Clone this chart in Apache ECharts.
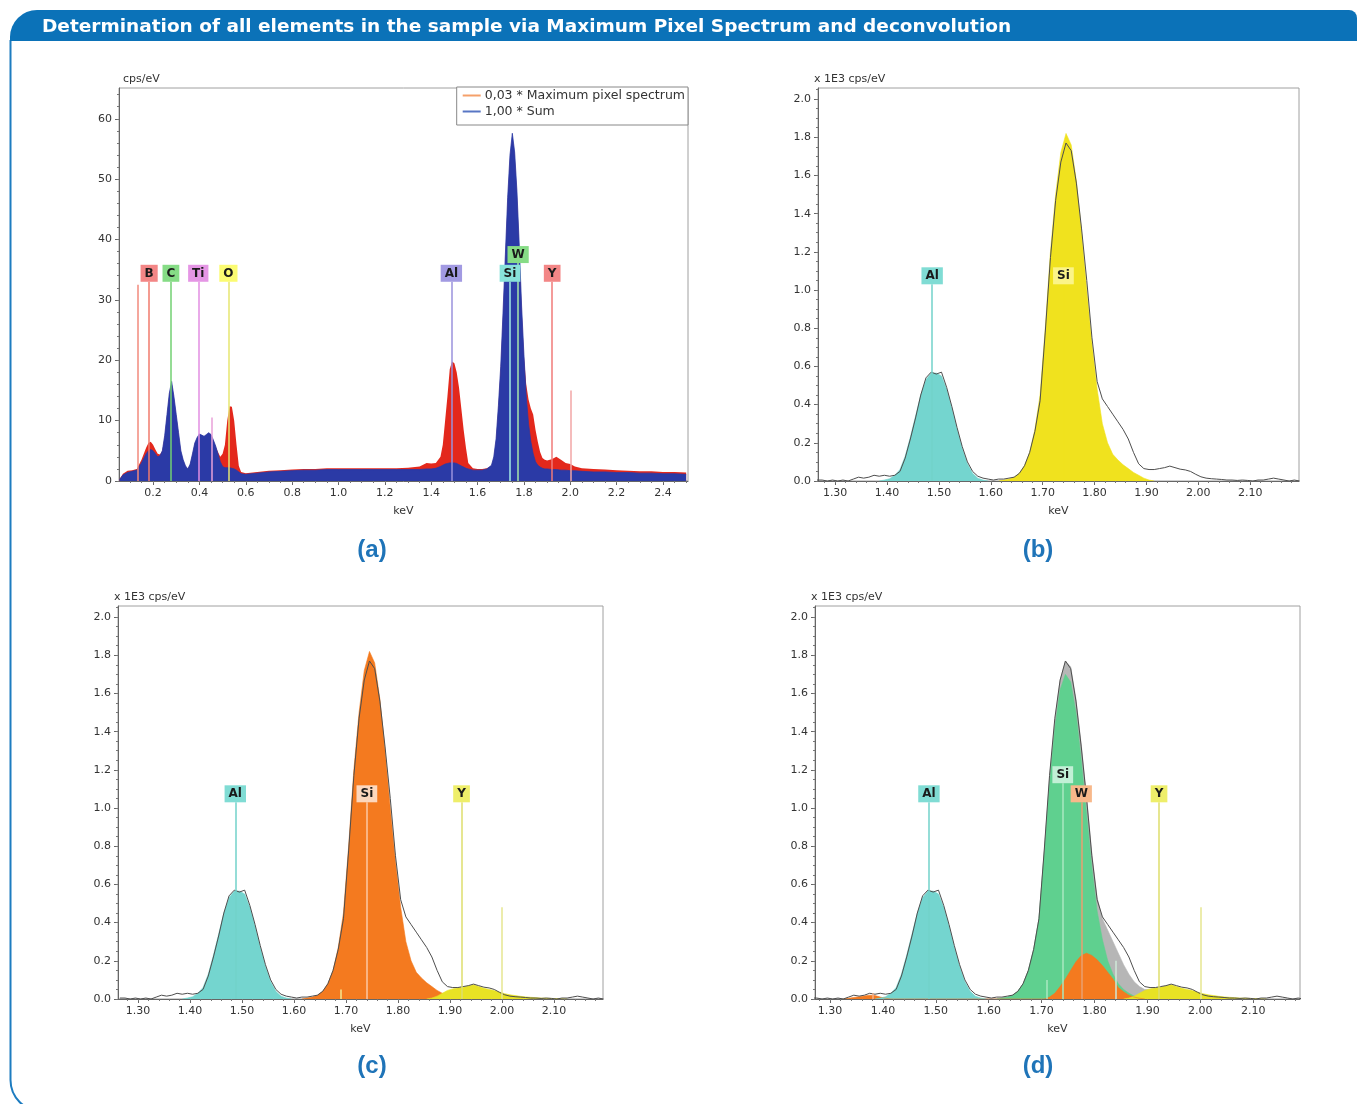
<!DOCTYPE html>
<html><head><meta charset="utf-8">
<script src="https://cdn.jsdelivr.net/npm/echarts@6/dist/echarts.min.js"></script>
<style>html,body{margin:0;padding:0;background:#fff;}#c{width:1360px;height:1104px;}</style>
</head><body><div id="c"></div>
<script>
// ---------- Panel (a): survey spectrum ----------
const aKeV = [0.055,0.07,0.09,0.11,0.13,0.15,0.17,0.18,0.19,0.20,
0.21,0.22,0.23,0.24,0.25,0.26,0.27,0.28,0.29,0.30,
0.31,0.32,0.33,0.34,0.35,0.36,0.37,0.38,0.39,0.40,
0.41,0.42,0.43,0.44,0.45,0.46,0.47,0.48,0.49,0.50,
0.51,0.52,0.53,0.54,0.55,0.56,0.57,0.58,0.60,0.65,
0.70,0.75,0.80,0.85,0.90,0.95,1.00,1.05,1.10,1.15,
1.20,1.25,1.30,1.35,1.38,1.40,1.42,1.44,1.45,1.46,
1.47,1.48,1.49,1.50,1.51,1.52,1.53,1.54,1.55,1.56,
1.58,1.60,1.62,1.64,1.66,1.67,1.68,1.69,1.70,1.71,
1.72,1.73,1.74,1.75,1.76,1.77,1.78,1.79,1.80,1.81,
1.82,1.83,1.84,1.85,1.86,1.87,1.88,1.89,1.90,1.92,
1.94,1.96,1.98,2.00,2.02,2.05,2.10,2.15,2.20,2.25,
2.30,2.35,2.40,2.45,2.50];
const aSum = [0.2,1.0,1.4,1.6,1.8,3.0,4.5,5.0,5.2,5.0,
4.5,4.0,4.2,5.0,7.5,11.0,14.5,16.5,14.0,11.0,
8.0,5.0,3.5,2.5,2.0,2.8,4.5,6.3,7.2,7.8,
7.6,7.4,7.7,8.0,7.7,6.8,5.8,4.5,3.2,2.4,
2.2,2.2,2.2,2.1,2.0,1.8,1.5,1.2,1.1,1.3,
1.5,1.6,1.7,1.8,1.8,1.9,1.9,1.9,1.9,1.9,
1.9,1.9,1.9,1.9,2.0,2.0,2.1,2.4,2.6,2.8,
2.9,3.0,3.0,3.0,2.9,2.7,2.5,2.3,2.1,2.0,
1.8,1.8,1.8,2.0,2.6,4.0,7.0,12.5,19.0,28.0,
37.5,47.0,54.0,57.6,54.5,48.0,39.0,29.0,21.0,14.0,
9.5,6.5,4.5,3.2,2.6,2.3,2.1,2.0,2.0,1.9,
1.9,1.8,1.8,1.7,1.7,1.6,1.5,1.5,1.4,1.4,
1.3,1.3,1.2,1.2,1.1];
const aMax = [0.3,1.2,1.7,1.8,2.0,3.5,5.5,6.3,6.5,6.0,
5.2,4.5,4.4,5.0,7.3,10.8,14.3,16.3,13.8,10.8,
7.8,4.8,3.4,2.4,2.0,2.7,4.4,6.2,7.1,7.7,
7.5,7.3,7.6,7.9,7.6,6.7,5.7,4.8,4.0,4.5,
6.0,10.0,12.4,12.3,10.0,6.0,2.5,1.5,1.3,1.5,
1.7,1.8,1.9,2.0,2.0,2.1,2.1,2.1,2.1,2.1,
2.1,2.1,2.2,2.4,3.0,2.9,3.0,4.0,6.0,10.0,
14.0,18.5,19.8,19.5,18.0,15.5,12.0,8.5,5.5,3.0,
2.1,2.0,2.0,2.1,2.5,3.8,6.8,12.2,18.7,27.6,
37.0,46.5,53.5,57.0,54.0,47.5,38.5,28.6,20.7,16.0,
13.5,12.0,11.0,8.5,6.5,4.8,3.8,3.5,3.4,3.6,
4.0,3.5,3.0,2.8,2.4,2.1,2.0,1.9,1.8,1.7,
1.6,1.6,1.5,1.5,1.4];
const aMarkKeV   = [0.135,0.183,0.277,0.395,0.452,0.525,1.487,1.740,1.775,1.922,2.000];
const aMarkTop   = [32.5, 33,   33,   33,   10.5, 33,   33,   33,   36.1, 33,   15];
const aMarkLabel = ['',   'B',  'C',  'Ti', '',   'O',  'Al', 'Si', 'W',  'Y',  ''];
const aTicksX = [0.2,0.4,0.6,0.8,1.0,1.2,1.4,1.6,1.8,2.0,2.2,2.4];
const aTicksY = [0,10,20,30,40,50,60];

// ---------- Panels (b)-(d): measured spectrum and fitted profiles ----------
const mKeV = [1.265,1.275,1.285,1.295,1.305,1.315,1.325,1.335,1.345,1.355,
1.365,1.375,1.385,1.395,1.405,1.415,1.425,1.435,1.445,1.455,
1.465,1.475,1.485,1.495,1.505,1.515,1.525,1.535,1.545,1.555,
1.565,1.575,1.585,1.595,1.605,1.615,1.625,1.635,1.645,1.655,
1.665,1.675,1.685,1.695,1.705,1.715,1.725,1.735,1.745,1.755,
1.765,1.775,1.785,1.795,1.805,1.815,1.825,1.835,1.845,1.855,
1.865,1.875,1.885,1.895,1.905,1.915,1.925,1.935,1.945,1.955,
1.965,1.975,1.985,1.995,2.005,2.015,2.025,2.035,2.045,2.055,
2.065,2.075,2.085,2.095,2.105,2.115,2.125,2.135,2.145,2.155,
2.165,2.175,2.185,2.195];
const measured = [0.005,0.005,0.0,0.005,0.0,0.005,0.0,0.01,0.02,0.015,
0.02,0.03,0.025,0.03,0.025,0.03,0.05,0.12,0.22,0.33,
0.45,0.54,0.57,0.56,0.57,0.49,0.39,0.28,0.18,0.10,
0.05,0.025,0.015,0.01,0.005,0.01,0.01,0.015,0.02,0.04,
0.08,0.15,0.26,0.42,0.78,1.17,1.47,1.67,1.77,1.73,
1.56,1.32,1.05,0.75,0.52,0.43,0.39,0.35,0.31,0.27,
0.22,0.15,0.09,0.065,0.06,0.06,0.065,0.07,0.078,0.07,
0.062,0.058,0.05,0.035,0.022,0.015,0.012,0.01,0.008,0.005,
0.005,0.003,0.005,0.003,0.0,0.005,0.005,0.01,0.015,0.01,
0.005,0.0,0.005,0.0];

const alKeV = [1.385,1.395,1.405,1.415,1.425,1.435,1.445,1.455,1.465,1.475,1.485,
1.495,1.505,1.515,1.525,1.535,1.545,1.555,1.565,1.575,1.585,1.595];
const alFit = [0,0.005,0.012,0.03,0.06,0.13,0.23,0.34,0.45,0.53,0.565,
0.565,0.55,0.48,0.38,0.27,0.17,0.09,0.04,0.015,0.005,0];

const siKeV = [1.615,1.625,1.635,1.645,1.655,1.665,1.675,1.685,1.695,1.705,1.715,
1.725,1.735,1.745,1.755,1.765,1.775,1.785,1.795,1.805,1.815,
1.825,1.835,1.845,1.855,1.865,1.875,1.885,1.895,1.905,1.915];
const siFit = [0,0.005,0.01,0.02,0.04,0.08,0.15,0.27,0.45,0.80,1.20,
1.50,1.72,1.82,1.76,1.57,1.30,1.00,0.72,0.48,0.30,
0.20,0.14,0.11,0.085,0.065,0.045,0.03,0.015,0.005,0];

const yKeV = [1.855,1.865,1.875,1.885,1.895,1.905,1.915,1.925,1.935,1.945,1.955,
1.965,1.975,1.985,1.995,2.005,2.015,2.025,2.035,2.045,2.055,
2.065,2.075,2.085,2.095,2.105,2.115,2.125];
const yFit = [0,0.005,0.015,0.03,0.045,0.053,0.058,0.062,0.068,0.075,0.066,
0.056,0.05,0.044,0.036,0.028,0.022,0.018,0.014,0.011,0.009,
0.007,0.005,0.004,0.003,0.002,0.001,0];

const siDKeV = [1.615,1.625,1.635,1.645,1.655,1.665,1.675,1.685,1.695,1.705,
1.715,1.725,1.735,1.745,1.755,1.765,1.775,1.785,1.795,1.805,
1.815,1.825,1.835,1.845,1.855,1.865,1.875,1.885,1.895];
const siDFit = [0,0.005,0.01,0.02,0.04,0.08,0.15,0.26,0.42,0.76,
1.13,1.42,1.62,1.70,1.66,1.50,1.25,0.97,0.69,0.46,
0.31,0.20,0.13,0.08,0.05,0.03,0.015,0.006,0];

const wKeV = [1.325,1.335,1.345,1.355,1.365,1.375,1.385,1.395,1.405,1.415,
1.705,1.715,1.725,1.735,1.745,1.755,1.765,1.775,1.785,1.795,
1.805,1.815,1.825,1.835,1.845,1.855,1.865,1.875,1.885,1.895];
const wFit = [0,0.004,0.008,0.012,0.016,0.02,0.018,0.01,0.004,0,
0,0.01,0.03,0.065,0.105,0.15,0.195,0.228,0.24,0.228,
0.205,0.175,0.14,0.105,0.06,0.038,0.02,0.01,0.004,0];

const totKeV = [1.615,1.625,1.635,1.645,1.655,1.665,1.675,1.685,1.695,1.705,
1.715,1.725,1.735,1.745,1.755,1.765,1.775,1.785,1.795,1.805,
1.815,1.825,1.835,1.845,1.855,1.865,1.875,1.885,1.895,1.905,
1.915,1.925,1.935,1.945];
const totFit = [0,0.005,0.01,0.02,0.04,0.08,0.15,0.26,0.42,0.77,
1.15,1.46,1.67,1.77,1.74,1.57,1.33,1.06,0.76,0.53,
0.42,0.36,0.30,0.24,0.18,0.13,0.09,0.065,0.05,0.05,
0.055,0.06,0.065,0];

const bMarkKeV = [1.487,1.740];
const bMarkTop = [1.03,1.03];
const bMarkLabel = ['Al','Si'];
const cMarkKeV = [1.487,1.690,1.740,1.922,2.000];
const cMarkTop = [1.03,0.05,1.03,1.03,0.48];
const cMarkLabel = ['Al','','Si','Y',''];
const dMarkKeV = [1.380,1.487,1.710,1.740,1.775,1.840,1.922,2.000];
const dMarkTop = [0.03,1.03,0.10,1.13,1.03,0.20,1.03,0.48];
const dMarkLabel = ['','Al','','Si','W','','Y',''];

const fitTicksX = [1.30,1.40,1.50,1.60,1.70,1.80,1.90,2.00,2.10];
const fitTicksY = [0.0,0.2,0.4,0.6,0.8,1.0,1.2,1.4,1.6,1.8,2.0];

// ---------- styles ----------
const aMarkLine = ['#f28a7c','#f07a6c','#72d072','#e28ee2','#e9a0d8','#e6e670','#9a92dc','#a6ece6','#a8e6a8','#f07a78','#f2a6a6'];
const aMarkBox  = ['','#f38686','#86dc86','#e596e5','','#fbfb72','#a29ae2','#88e2da','#86dc86','#f38686',''];
const bMarkLine = ['#72d2ca','#f0e21e'];
const bMarkBox  = ['#80dcd4','#fbf488'];
const cMarkLine = ['#72d2ca','#f6e890','#fcc9a4','#dede6c','#e6e690'];
const cMarkBox  = ['#80dcd4','','#fcd7bd','#eeee6a',''];
const dMarkLine = ['#f5b08a','#72d2ca','#a8e8c0','#a8e8c0','#e8a070','#cfe8d8','#dede6c','#e6e690'];
const dMarkBox  = ['','#80dcd4','','#c2f0d6','#f8b88a','','#eeee6a',''];

const FONT = 'DejaVu Sans';
const zip = (xs, ys) => xs.map((x, i) => [x, ys[i]]);
function steps(a, b, s) { const r = []; for (let v = a; v <= b + 1e-9; v += s) r.push(+v.toFixed(4)); return r; }

function markers(keV, tops, labels, lineCols, boxCols) {
  return keV.map((x, i) => [
    { coord: [x, 0], name: labels[i],
      lineStyle: { color: lineCols[i], width: 1.5, type: 'solid', opacity: 1 },
      label: { show: labels[i] !== '', position: 'end', distance: 0, formatter: labels[i] || ' ',
        backgroundColor: boxCols[i] || 'transparent', color: '#1a1a1a', fontFamily: FONT,
        fontWeight: 'bold', fontSize: 12, lineHeight: 14, padding: [2, 4, 1, 4] } },
    { coord: [x, tops[i]] }
  ]);
}

const grids = [
  { left: 119, top: 88, width: 569, height: 393 },
  { left: 818, top: 88, width: 481, height: 393 },
  { left: 118, top: 606, width: 485, height: 393 },
  { left: 815, top: 606, width: 485, height: 393 }
].map(g => Object.assign({ show: true, borderColor: '#a0a0a0', borderWidth: 1, backgroundColor: '#fff', containLabel: false }, g));

const xr = [[0.053, 2.508], [1.267, 2.194], [1.2615, 2.194], [1.2716, 2.1885]];
const yr = [65.1, 2.058, 2.058, 2.058];
const xMinor = [steps(0.1, 2.5, 0.05), steps(1.28, 2.18, 0.02), steps(1.28, 2.18, 0.02), steps(1.28, 2.18, 0.02)];
const yMinor = [steps(0, 64, 2), steps(0, 2.05, 0.05), steps(0, 2.05, 0.05), steps(0, 2.05, 0.05)];

const axisColor = '#666';
const labelStyle = { fontFamily: FONT, fontSize: 11, color: '#333' };
const xAxes = [], yAxes = [];
for (let i = 0; i < 4; i++) {
  const tx = i === 0 ? aTicksX : fitTicksX, ty = i === 0 ? aTicksY : fitTicksY;
  const dx = i === 0 ? 1 : 2, dy = i === 0 ? 0 : 1;
  xAxes.push({ type: 'value', gridIndex: i, min: xr[i][0], max: xr[i][1], position: 'bottom',
    axisLine: { show: true, onZero: false, lineStyle: { color: axisColor, width: 1 } },
    axisTick: { show: true, length: 4, customValues: tx, lineStyle: { color: axisColor } },
    axisLabel: Object.assign({ customValues: tx, formatter: v => v.toFixed(dx), margin: 7 }, labelStyle),
    splitLine: { show: false },
    name: 'keV', nameLocation: 'middle', nameGap: 25, nameTextStyle: labelStyle });
  yAxes.push({ type: 'value', gridIndex: i, min: 0, max: yr[i], position: 'left',
    axisLine: { show: true, onZero: false, lineStyle: { color: axisColor, width: 1 } },
    axisTick: { show: true, length: 4, customValues: ty, lineStyle: { color: axisColor } },
    axisLabel: Object.assign({ customValues: ty, formatter: v => v.toFixed(dy), margin: 7 }, labelStyle),
    splitLine: { show: false },
    name: i === 0 ? 'cps/eV' : 'x 1E3 cps/eV', nameLocation: 'end', nameGap: 3,
    nameTextStyle: Object.assign({ align: 'left', verticalAlign: 'bottom', padding: [0, 0, 0, i === 0 ? 4 : -4] }, labelStyle) });
}
for (let i = 0; i < 4; i++) {
  xAxes.push({ type: 'value', gridIndex: i, min: xr[i][0], max: xr[i][1], position: 'bottom',
    axisLine: { show: false }, axisLabel: { show: false }, splitLine: { show: false },
    axisTick: { show: true, length: 2, customValues: xMinor[i], lineStyle: { color: '#777' } } });
  yAxes.push({ type: 'value', gridIndex: i, min: 0, max: yr[i], position: 'left',
    axisLine: { show: false }, axisLabel: { show: false }, splitLine: { show: false },
    axisTick: { show: true, length: 2, customValues: yMinor[i], lineStyle: { color: '#777' } } });
}

function area(name, gi, xs, ys, color, z, lw) {
  return { name, type: 'line', xAxisIndex: gi, yAxisIndex: gi, data: zip(xs, ys), symbol: 'none', showSymbol: false,
    lineStyle: { width: lw === undefined ? 0.6 : lw, color }, itemStyle: { color }, areaStyle: { color, opacity: 1 }, z: z || 2, silent: true };
}
function outline(gi, mk) {
  return { name: 'measured' + gi, type: 'line', xAxisIndex: gi, yAxisIndex: gi, data: zip(mKeV, measured),
    symbol: 'none', showSymbol: false, lineStyle: { width: 1, color: '#4e4e4e' }, z: 4, silent: true,
    markLine: { symbol: ['none', 'none'], silent: true, animation: false, data: mk } };
}

const CYAN = '#74d5cf', YEL = '#f0e21e', ORA = '#f47a1f', GRN = '#5fd08f', GRY = '#b6b6b6';
const series = [
  area('0,03 * Maximum pixel spectrum', 0, aKeV, aMax, '#e3281c', 2, 0),
  Object.assign(area('1,00 * Sum', 0, aKeV, aSum, '#2b3aa6', 3, 0.8), {
    markLine: { symbol: ['none', 'none'], silent: true, animation: false,
      data: markers(aMarkKeV, aMarkTop, aMarkLabel, aMarkLine, aMarkBox) } }),
  // (b)
  area('Al b', 1, alKeV, alFit, CYAN),
  area('Si b', 1, siKeV, siFit, YEL),
  outline(1, markers(bMarkKeV, bMarkTop, bMarkLabel, bMarkLine, bMarkBox)),
  // (c)
  area('Al c', 2, alKeV, alFit, CYAN),
  area('Si c', 2, siKeV, siFit, ORA),
  area('Y c', 2, yKeV, yFit, '#e8e224', 3),
  outline(2, markers(cMarkKeV, cMarkTop, cMarkLabel, cMarkLine, cMarkBox)),
  // (d)
  area('Total d', 3, totKeV, totFit, GRY, 1),
  area('Si d', 3, siDKeV, siDFit, GRN, 2),
  area('W d', 3, wKeV, wFit, ORA, 3),
  area('Y d', 3, yKeV, yFit, '#e8e224', 3),
  area('Al d', 3, alKeV, alFit, CYAN, 3),
  outline(3, markers(dMarkKeV, dMarkTop, dMarkLabel, dMarkLine, dMarkBox))
];

const BLUE = '#0b72b8';
const FRAME = '#1d7cc0';
const panelLabel = (t, x, y) => ({ type: 'text', z: 10, silent: true,
  style: { text: t, x, y, fill: '#1f74b8', fontFamily: 'Liberation Sans', fontWeight: 'bold', fontSize: 24, align: 'center', verticalAlign: 'middle' } });

const option = {
  animation: false,
  backgroundColor: '#fff',
  title: { text: 'Determination of all elements in the sample via Maximum Pixel Spectrum and deconvolution',
    left: 42, top: 16, padding: 0, z: 10,
    textStyle: { color: '#fff', fontFamily: 'DejaVu Sans', fontWeight: 'bold', fontSize: 18.5, lineHeight: 22 } },
  legend: { data: [
      { name: '0,03 * Maximum pixel spectrum', icon: 'rect', itemStyle: { color: '#f5a06a' } },
      { name: '1,00 * Sum', icon: 'rect', itemStyle: { color: '#5876c4' } } ],
    orient: 'vertical', align: 'left', right: 672, top: 87, itemWidth: 18, itemHeight: 2, itemGap: 3,
    padding: [2, 3, 7, 6], borderColor: '#888', borderWidth: 1, backgroundColor: '#fff',
    selectedMode: false, textStyle: { fontFamily: FONT, fontSize: 12.5, lineHeight: 13, color: '#333', padding: [0, 0, 0, -1] } },
  grid: grids,
  xAxis: xAxes,
  yAxis: yAxes,
  series,
  graphic: [
    { type: 'line', z: 0, silent: true, shape: { x1: 10.5, y1: 40, x2: 10.5, y2: 1080 },
      style: { stroke: FRAME, lineWidth: 2 } },
    { type: 'arc', z: 0, silent: true, shape: { cx: 41.5, cy: 1080, r: 31, startAngle: Math.PI / 2, endAngle: Math.PI, clockwise: true },
      style: { stroke: FRAME, lineWidth: 2, fill: null } },
    { type: 'line', z: 0, silent: true, shape: { x1: 41.5, y1: 1111, x2: 1420, y2: 1111 },
      style: { stroke: FRAME, lineWidth: 2 } },
    { type: 'rect', z: 1, silent: true, shape: { x: 10, y: 10, width: 1347, height: 31, r: [27, 8, 0, 0] },
      style: { fill: BLUE } },
    panelLabel('(a)', 372, 550), panelLabel('(b)', 1038, 550),
    panelLabel('(c)', 372, 1066), panelLabel('(d)', 1038, 1066)
  ]
};
const chart = echarts.init(document.getElementById('c'));
chart.setOption(option);
</script></body></html>
